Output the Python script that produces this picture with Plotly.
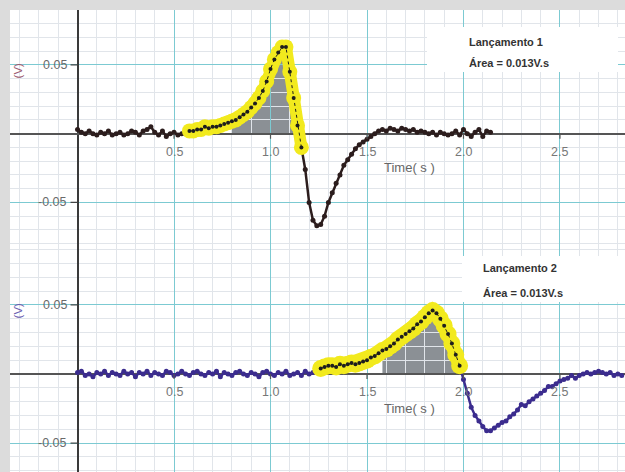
import plotly.graph_objects as go

# ---------------- data ----------------
DT = 0.02  # sampling interval (s)

# Lançamento 1 : voltage (V), samples every 0.02 s from t = 0
v1 = [0.003, 0.001, 0.000, 0.002, 0.000, -0.001, 0.001, 0.000, 0.002, -0.001,
      0.000, 0.001, -0.001, 0.000, 0.002, 0.001, -0.001, 0.002, 0.003, 0.005,
      0.001, -0.001, 0.002, -0.002, 0.000, 0.001, -0.001, 0.000, 0.001, 0.002,
      0.002, 0.003, 0.003, 0.005, 0.004, 0.005, 0.005, 0.006, 0.007, 0.008,
      0.009, 0.010, 0.012, 0.014, 0.016, 0.019, 0.022, 0.026, 0.031, 0.038,
      0.047, 0.054, 0.059, 0.063, 0.063, 0.045, 0.026, 0.006,
      -0.010, -0.026, -0.050, -0.063, -0.067, -0.066, -0.060, -0.050, -0.043, -0.036,
      -0.030, -0.023, -0.019, -0.015, -0.011, -0.008, -0.006, -0.004, -0.002, 0.000,
      0.002, 0.003, 0.002, 0.004, 0.003, 0.002, 0.004, 0.003, 0.002, 0.003,
      0.001, 0.002, 0.001, 0.000, 0.001, -0.001, 0.001, 0.000, -0.001, 0.000,
      0.002, -0.001, 0.003, 0.000, -0.002, 0.001, 0.003, -0.002, 0.002, 0.001]

# Lançamento 2 : voltage (V), samples every 0.02 s from t = 0
v2 = [0.001, 0.002, -0.001, 0.000, -0.002, 0.001, 0.000, 0.002, -0.001, 0.001,
      0.000, -0.001, 0.002, 0.000, 0.001, -0.002, 0.001, 0.000, 0.002, -0.001,
      0.001, 0.000, -0.001, 0.002, 0.001, -0.001, 0.000, 0.002, 0.000, -0.001,
      0.001, 0.002, 0.000, -0.001, 0.001, 0.000, 0.002, -0.002, 0.001, 0.000,
      -0.001, 0.001, 0.002, 0.000, -0.001, 0.001, 0.000, -0.002, 0.001, 0.002,
      0.000, -0.001, 0.001, 0.000, 0.002, -0.001, 0.000, 0.001, -0.001, 0.002,
      0.000, 0.001,
      0.002, 0.004, 0.005, 0.006, 0.006, 0.005, 0.007, 0.006, 0.007, 0.008,
      0.007, 0.008, 0.009, 0.010, 0.012, 0.013, 0.015, 0.017, 0.018, 0.020,
      0.022, 0.025, 0.027, 0.029, 0.031, 0.033, 0.036, 0.038, 0.041, 0.044,
      0.046, 0.044, 0.040, 0.035, 0.029, 0.022, 0.014, 0.006,
      -0.004, -0.014, -0.024, -0.030, -0.034, -0.038, -0.041, -0.041, -0.039, -0.037,
      -0.035, -0.034, -0.031, -0.029, -0.026, -0.022, -0.023, -0.020, -0.018, -0.016,
      -0.014, -0.012, -0.009, -0.009, -0.007, -0.005, -0.004, -0.003, -0.001, -0.003,
      -0.001, 0.000, 0.001, 0.000, 0.001, 0.002, 0.001, 0.000, 0.001, -0.001,
      0.000, -0.001]

t1 = [round(i * DT, 2) for i in range(len(v1))]
t2 = [round(i * DT, 2) for i in range(len(v2))]

highlight1 = (0.58, 1.16)   # selected (yellow) interval, run 1
area1 = (0.80, 1.14)        # integrated (grey) interval, run 1
highlight2 = (1.26, 1.98)
area2 = (1.58, 1.98)

x_ticks = [0.5, 1.0, 1.5, 2.0, 2.5]
x_tick_labels = ["0.5", "1.0", "1.5", "2.0", "2.5"]
y_ticks = [0.05, -0.05]
y_tick_labels = ["0.05", "-0.05"]

titles = ["Lançamento 1", "Lançamento 2"]
area_texts = ["Área = 0.013V.s", "Área = 0.013V.s"]
x_title = "Time( s )"
y_title = "(V)"


def sel(t, v, rng):
    lo, hi = rng
    pts = [(a, b) for a, b in zip(t, v) if lo - 1e-9 <= a <= hi + 1e-9]
    return [p[0] for p in pts], [p[1] for p in pts]


# ---------------- figure ----------------
W, H = 625, 472
XR = [-0.350, 2.837]
YR1 = [-0.0835, 0.0899]
YR2 = [-0.0709, 0.0908]
XDOM = [10 / W, 1.0]
YDOM1 = [1 - 248.5 / H, 1 - 10 / H]
YDOM2 = [0.0, 1 - 248.5 / H]

TEAL = "#7ccad2"
MINOR = "#e1e5ea"
YELLOW = "#f2ea1e"
GREY = "#8b9095"
C1 = "#2c1d1d"
C2 = "#3b2c8e"

fig = go.Figure()

# grey integration areas (drawn in the lower subplots so grid shows over them)
ax, ay = sel(t1, v1, area1)
fig.add_trace(go.Scatter(x=ax, y=ay, xaxis="x", yaxis="y", mode="lines",
                         line=dict(width=0, color=GREY), fill="tozeroy",
                         fillcolor=GREY, hoverinfo="skip", showlegend=False))
ax, ay = sel(t2, v2, area2)
fig.add_trace(go.Scatter(x=ax, y=ay, xaxis="x2", yaxis="y2", mode="lines",
                         line=dict(width=0, color=GREY), fill="tozeroy",
                         fillcolor=GREY, hoverinfo="skip", showlegend=False))

# run curves
for (t, v, hl, col, xa, ya, ms) in [(t1, v1, highlight1, C1, "x3", "y3", 15),
                                    (t2, v2, highlight2, C2, "x4", "y4", 17)]:
    fig.add_trace(go.Scatter(x=t, y=v, xaxis=xa, yaxis=ya, mode="lines+markers",
                             line=dict(color=col, width=2.5),
                             marker=dict(color=col, size=5),
                             showlegend=False))
    hx, hy = sel(t, v, hl)
    fig.add_trace(go.Scatter(x=hx, y=hy, xaxis=xa, yaxis=ya, mode="lines+markers",
                             line=dict(color=YELLOW, width=ms - 3),
                             marker=dict(color=YELLOW, size=ms),
                             showlegend=False))
    fig.add_trace(go.Scatter(x=hx, y=hy, xaxis=xa, yaxis=ya, mode="lines+markers",
                             line=dict(color="#1e1e1e", width=1, dash="dot"),
                             marker=dict(color="#1e1e1e", size=4),
                             showlegend=False))

hidden = dict(visible=False, showgrid=False, zeroline=False, fixedrange=True)
grid_x = dict(range=XR, domain=XDOM, showgrid=True, gridcolor=TEAL, gridwidth=1,
              dtick=0.5, tick0=0, showticklabels=False, ticks="",
              minor=dict(dtick=0.1, tick0=0, showgrid=True, gridcolor=MINOR, gridwidth=1),
              zeroline=True, zerolinecolor="#3a3a3a", zerolinewidth=1.6,
              showline=False)
grid_y = dict(showgrid=True, gridcolor=TEAL, gridwidth=1, dtick=0.05, tick0=0,
              showticklabels=False, ticks="",
              minor=dict(dtick=0.01, tick0=0, showgrid=True, gridcolor=MINOR, gridwidth=1),
              zeroline=True, zerolinecolor="#555555", zerolinewidth=1.6,
              showline=False)

fig.update_layout(
    width=W, height=H, margin=dict(l=0, r=0, t=0, b=0),
    paper_bgcolor="#dcdcdc", plot_bgcolor="rgba(0,0,0,0)",
    font=dict(family="Liberation Sans, Arial, sans-serif", color="#666666"),
    xaxis=dict(range=XR, domain=XDOM, anchor="y", **hidden),
    yaxis=dict(range=YR1, domain=YDOM1, anchor="x", **hidden),
    xaxis2=dict(range=XR, domain=XDOM, anchor="y2", **hidden),
    yaxis2=dict(range=YR2, domain=YDOM2, anchor="x2", **hidden),
    xaxis3=dict(anchor="y3", **grid_x),
    yaxis3=dict(range=YR1, domain=YDOM1, anchor="x3", **grid_y),
    xaxis4=dict(anchor="y4", **grid_x),
    yaxis4=dict(range=YR2, domain=YDOM2, anchor="x4", **grid_y),
)

shapes = [dict(type="rect", xref="paper", yref="paper", x0=XDOM[0], x1=1,
               y0=0, y1=YDOM1[1], fillcolor="white", line=dict(width=0), layer="below")]
annotations = []

boxes = [dict(x0=427, x1=618, y0=27, y1=72, tx=467, ty=(42, 63)),
         dict(x0=462, x1=625, y0=256, y1=302, tx=481, ty=(268, 293))]

for k, (xa, ya, vcol) in enumerate([("x3", "y3", "#9b5a70"), ("x4", "y4", "#6a5db0")]):
    # ticks on the axis lines
    for yt in y_ticks:
        shapes.append(dict(type="line", xref=xa, yref=ya, xsizemode="pixel", xanchor=0,
                           x0=-7, x1=0, y0=yt, y1=yt, line=dict(color="#444", width=1.2),
                           layer="above"))
    for xt in x_ticks:
        shapes.append(dict(type="line", xref=xa, yref=ya, ysizemode="pixel", yanchor=0,
                           y0=-5, y1=0, x0=xt, x1=xt, line=dict(color="#555", width=1.2),
                           layer="above"))
    for xt, lab in zip(x_ticks, x_tick_labels):
        annotations.append(dict(x=xt, y=0, xref=xa, yref=ya, text=lab, showarrow=False,
                                yshift=-18, font=dict(size=12.5, color="#777777")))
    for yt, lab in zip(y_ticks, y_tick_labels):
        annotations.append(dict(x=0, y=yt, xref=xa, yref=ya, text=lab, showarrow=False,
                                xanchor="right", xshift=-9, font=dict(size=12.5, color="#6a6a6a")))
    annotations.append(dict(x=0, y=0.05, xref=xa, yref=ya, text=y_title, showarrow=False,
                            textangle=-90, xshift=-60, yshift=-6,
                            font=dict(size=11.5, color=vcol)))
    annotations.append(dict(x=1.72, y=0, xref=xa, yref=ya, text=x_title, showarrow=False,
                            yshift=-34, font=dict(size=13, color="#666666")))
    b = boxes[k]
    shapes.append(dict(type="rect", xref="paper", yref="paper",
                       x0=b["x0"] / W, x1=b["x1"] / W, y0=1 - b["y1"] / H, y1=1 - b["y0"] / H,
                       fillcolor="white", line=dict(width=0), layer="above"))
    for txt, ty in zip([titles[k], area_texts[k]], b["ty"]):
        annotations.append(dict(x=b["tx"] / W, y=1 - ty / H, xref="paper", yref="paper",
                                text="<b>" + txt + "</b>", showarrow=False,
                                xanchor="left", yanchor="middle",
                                font=dict(size=11, color="#333333")))

fig.update_layout(shapes=shapes, annotations=annotations)
fig.write_html("out.html", config={"displayModeBar": False},
               post_script="document.body.style.margin='0';"
                           "document.body.style.background='#dcdcdc';")
